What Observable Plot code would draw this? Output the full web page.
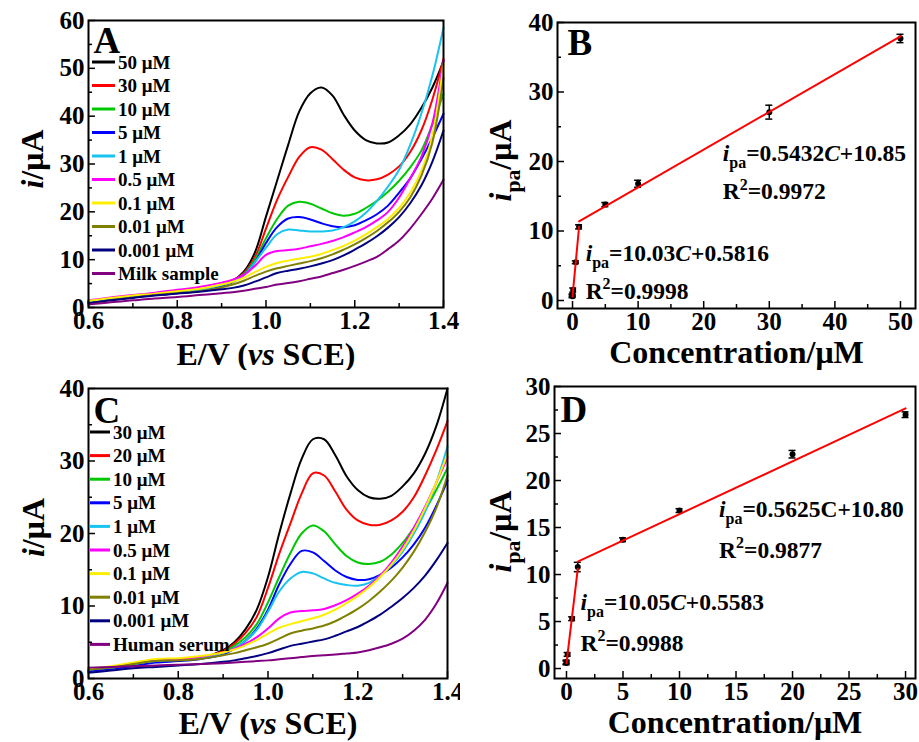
<!DOCTYPE html>
<html><head><meta charset="utf-8">
<script src="https://cdn.jsdelivr.net/npm/d3@7"></script>
<script src="https://cdn.jsdelivr.net/npm/@observablehq/plot@0.6"></script>
<style>
html,body{margin:0;padding:0;background:#fff;}
#wrap{position:relative;width:919px;height:742px;overflow:hidden;background:#fff;}
#wrap > svg{position:absolute;}
</style></head><body><div id="wrap"></div>
<script>
// ---------- data ----------
const potential = [0.6,0.65,0.7,0.75,0.8,0.85,0.9,0.925,0.95,0.975,1.0,1.025,1.05,1.075,1.1,1.125,1.15,1.175,1.2,1.225,1.25,1.275,1.3,1.325,1.35,1.375,1.4];

const labelsA = ["50 μM","30 μM","10 μM","5 μM","1 μM","0.5 μM","0.1 μM","0.01 μM","0.001 μM","Milk sample"];
const labelsC = ["30 μM","20 μM","10 μM","5 μM","1 μM","0.5 μM","0.1 μM","0.01 μM","0.001 μM","Human serum"];
const seriesColors = ["#000000","#ff0000","#00c800","#0000ff","#19c3f0","#ff00ff","#ffee00","#808000","#000080","#800080"];

// Panel A currents (μA)
const a50   = [1.2,1.8,2.3,2.7,3.1,3.6,4.6,5.6,7.5,11.5,19,26.5,34,41,44.8,46,44.3,40.3,37,35,34.3,34.5,36,38.3,41.7,46,51.5];
const a30   = [1.2,1.8,2.3,2.7,3.1,3.6,4.6,5.5,7.2,10.5,16.5,22.5,27.3,31.5,33.5,33,31,28.8,27.2,26.6,26.8,27.8,29.5,32.5,37,43.5,52];
const a10   = [1.2,1.8,2.3,2.7,3.1,3.6,4.6,5.4,7.0,10,14.5,18.5,21.3,22.1,21.7,20.7,19.7,19.2,19.6,20.8,22.3,24.2,26.5,29.3,32.8,38.3,44.7];
const a5    = [1.1,1.7,2.2,2.6,3.0,3.5,4.5,5.3,6.8,9.5,13.5,16.8,18.6,18.9,18.4,17.6,17.0,16.8,17.2,18.2,19.5,21.3,24,27,31,35.5,40.5];
const a1    = [1.3,1.9,2.4,2.8,3.2,3.7,4.7,5.4,6.7,9.5,12.5,15.3,16.3,16.1,15.9,15.9,16.1,16.8,18,19.8,22.3,25.3,28.8,34,40.5,48.5,58.5];
const a05   = [1.5,2.1,2.6,3.1,3.7,4.3,5.2,5.8,6.8,8.7,11,11.8,12,12.3,12.8,13.3,13.9,14.7,15.7,16.8,18.2,20,23,27,31.5,38.5,51.8];
const a01   = [1.4,2.0,2.5,2.9,3.4,3.9,4.8,5.4,6.2,7.4,8.5,9.3,9.8,10.2,10.6,11.2,12,12.9,14,15.3,16.8,18.5,20.8,24,28.5,36,51];
const a001  = [0.9,1.5,2.1,2.6,3.0,3.4,4.2,4.8,5.6,6.6,7.5,8.2,8.7,9.2,9.7,10.3,11.1,12.1,13.2,14.5,16,17.8,20,23,27.5,34.5,48];
const a0001 = [0.9,1.5,2.0,2.5,2.9,3.3,3.8,4.1,4.6,5.4,6.3,7.2,7.7,8.1,8.6,9.2,9.9,10.9,12.1,13.4,14.9,16.7,18.9,21.8,25.5,30.5,37];
const aMilk = [0.6,1.1,1.5,1.9,2.2,2.6,3.0,3.2,3.5,3.9,4.3,4.8,5.1,5.5,6.0,6.5,7.2,7.9,8.7,9.6,10.6,12.2,14,16.5,19.5,22.8,26.7];

// Panel C currents (μA)
const c30    = [1.1,1.4,1.8,2.3,2.5,2.8,3.9,5.0,6.8,9.5,14,20,25.5,30.3,33,33,30.8,27.9,26,25,24.8,25.2,26.5,28.3,31,34.8,40];
const c20    = [1.1,1.4,1.8,2.3,2.5,2.8,3.8,4.8,6.3,8.5,12.5,17.2,21.4,25.5,28.3,28,25.8,23.3,21.8,21.2,21.2,21.8,23,25,28,31.5,35.5];
const c10    = [1.1,1.4,1.8,2.3,2.5,2.8,3.6,4.5,5.7,7.5,10.5,14,17.3,20,21.1,20.3,18.5,16.9,16,15.8,16.1,17.1,18.7,20.8,23.2,26,29];
const c5     = [1.0,1.3,1.7,2.2,2.4,2.7,3.3,4.1,5.2,6.9,9.5,13,15.8,17.6,17.4,16.2,14.9,14,13.6,13.7,14.3,15.3,16.7,18.5,20.8,23.8,27.3];
const c1     = [1.2,1.5,2.0,2.4,2.6,2.9,3.5,4.2,5.2,6.7,9.2,12,13.8,14.7,14.5,13.8,13.2,12.9,12.8,13.2,14.2,15.6,17.5,20,23,27,32];
const c05    = [1.3,1.6,2.1,2.5,2.7,3.0,3.6,4.1,4.8,5.7,6.9,8.3,9.1,9.3,9.4,9.6,10.1,10.8,11.7,12.8,14.2,16,18.2,20.8,23.7,27,30.5];
const c01    = [1.3,1.7,2.2,2.7,2.8,3.1,3.6,4.0,4.6,5.3,6.2,7.0,7.5,7.9,8.3,8.8,9.5,10.4,11.4,12.6,14,15.7,17.8,20.4,23.5,27,31];
const c001   = [1.2,1.5,2.0,2.4,2.5,2.7,3.2,3.5,3.9,4.3,4.8,5.5,6.2,6.6,6.9,7.3,7.9,8.7,9.6,10.7,12,13.5,15.3,17.5,20.2,23.5,28];
const c0001  = [0.8,1.1,1.4,1.6,1.8,2.0,2.3,2.5,2.8,3.1,3.5,4.0,4.5,4.8,5.1,5.4,5.9,6.5,7.1,7.9,8.8,9.9,11.1,12.5,14.2,16.3,18.7];
const cSerum = [1.5,1.6,1.7,1.8,1.9,2.0,2.1,2.2,2.3,2.4,2.5,2.65,2.8,2.95,3.1,3.2,3.3,3.45,3.6,3.9,4.3,4.8,5.5,6.6,8.1,10.3,13.2];

// Panel B calibration (milk)
const concB = [0.001,0.01,0.1,0.5,1,5,10,30,50];
const ipaB  = [0.6,0.75,1.5,5.5,10.6,13.8,16.8,27.1,37.7];
const errB  = [0.2,0.2,0.3,0.2,0.3,0.3,0.5,1.0,0.6];
const fitB  = [{slope:10.03, intercept:0.5816, from:0, to:1},{slope:0.5432, intercept:10.85, from:1, to:50}];
const annB  = [
  {x:22.9, y:21.2, t:"*i*_{pa}=0.5432*C*+10.85"},
  {x:22.9, y:15.7, t:"R^{2}=0.9972"},
  {x:2.0,  y:6.8,  t:"*i*_{pa}=10.03*C*+0.5816"},
  {x:2.0,  y:1.35, t:"R^{2}=0.9998"}
];

// Panel D calibration (human serum)
const concD = [0.001,0.01,0.1,0.5,1,5,10,20,30];
const ipaD  = [0.6,0.7,1.5,5.3,10.8,13.7,16.8,22.8,27.0];
const errD  = [0.2,0.2,0.2,0.2,0.5,0.2,0.2,0.4,0.3];
const fitD  = [{slope:10.05, intercept:0.5583, from:0, to:1},{slope:0.5625, intercept:10.80, from:1, to:30}];
const annD  = [
  {x:13.5, y:16.9, t:"*i*_{pa}=0.5625C+10.80"},
  {x:13.5, y:12.6, t:"R^{2}=0.9877"},
  {x:1.24, y:7.0,  t:"*i*_{pa}=10.05*C*+0.5583"},
  {x:1.24, y:2.7,  t:"R^{2}=0.9988"}
];

// ---------- helpers ----------
const FONT = "'Liberation Serif','Times New Roman',serif";
const svgns = "http://www.w3.org/2000/svg";

function richify(svg) {
  svg.querySelectorAll("text").forEach(el => {
    const s = el.textContent;
    if (!/\*|_\{|\^\{/.test(s)) return;
    const size = parseFloat(getComputedStyle(el).fontSize) || 20;
    el.textContent = "";
    const re = /\*([^*]+)\*|_\{([^}]+)\}|\^\{([^}]+)\}|([^*_^]+)/g;
    let m, shift = 0;
    while ((m = re.exec(s))) {
      const t = document.createElementNS(svgns, "tspan");
      if (m[2] != null || m[3] != null) {
        t.textContent = m[2] != null ? m[2] : m[3];
        t.setAttribute("font-size", (size * 0.68).toFixed(2));
        const off = m[2] != null ? 0.3 * size : -0.4 * size;
        t.setAttribute("dy", (off - shift).toFixed(2));
        shift = off;
      } else {
        if (m[1] != null) { t.textContent = m[1]; t.setAttribute("font-style", "italic"); }
        else t.textContent = m[4];
        if (shift) { t.setAttribute("dy", (-shift).toFixed(2)); shift = 0; }
      }
      el.appendChild(t);
    }
  });
}

function legend(svg, labels, {x1, x2, tx, y0, step}) {
  const g = d3.select(svg).append("g")
    .attr("font-size", 19).attr("font-weight", "bold").attr("font-family", FONT)
    .attr("text-anchor", "start");
  labels.forEach((lab, k) => {
    const y = y0 + k * step;
    g.append("line").attr("x1", x1).attr("x2", x2).attr("y1", y).attr("y2", y)
      .attr("stroke", seriesColors[k]).attr("stroke-width", 3);
    g.append("text").attr("x", tx).attr("y", y).attr("dy", "0.35em")
      .attr("text-anchor", "start").attr("fill", "black").text(lab);
  });
}

function panel(o) {
  const iw = o.width - o.ml - o.mr, ih = o.height - o.mt - o.mb;
  const chart = Plot.plot({
    width: o.width, height: o.height,
    marginLeft: o.ml, marginRight: o.mr, marginTop: o.mt, marginBottom: o.mb,
    x: {domain: o.xDomain, axis: null},
    y: {domain: o.yDomain, axis: null},
    style: {fontFamily: FONT, fontWeight: "bold", background: "white", color: "black", overflow: "visible"},
    marks: [
      ...o.marks,
      Plot.tickX(o.xMajor, {x: d => d, insetTop: ih - 7, stroke: "black", strokeWidth: 1.5}),
      Plot.tickX(o.xMinor, {x: d => d, insetTop: ih - 4, stroke: "black", strokeWidth: 1.5}),
      Plot.tickY(o.yMajor, {y: d => d, insetRight: iw - 7, stroke: "black", strokeWidth: 1.5}),
      Plot.tickY(o.yMinor, {y: d => d, insetRight: iw - 4, stroke: "black", strokeWidth: 1.5}),
      Plot.frame({stroke: "black", strokeWidth: 2}),
      Plot.text(o.xMajor, {x: d => d, frameAnchor: "bottom", textAnchor: "middle", lineAnchor: "top", dy: 4, text: o.xFmt, fontSize: 25, fontWeight: "bold", fill: "black"}),
      Plot.text(o.yMajor, {y: d => d, frameAnchor: "left", textAnchor: "end", lineAnchor: "middle", dx: -4, text: d => String(d), fontSize: 25, fontWeight: "bold", fill: "black"}),
      Plot.text([o.xTitle], {frameAnchor: "bottom", textAnchor: "middle", lineAnchor: "middle", dy: o.xTitleDy, text: d => d, fontSize: 32, fontWeight: "bold", fill: "black"}),
      Plot.text([o.yTitle], {frameAnchor: "left", textAnchor: "middle", lineAnchor: "middle", rotate: -90, dx: o.yTitleDx, dy: o.yTitleDy, text: d => d, fontSize: 32, fontWeight: "bold", fill: "black"}),
      Plot.text([o.letter], {frameAnchor: "top-left", textAnchor: "start", lineAnchor: "top", dx: o.letterDx, dy: o.letterDy, text: d => d, fontSize: 37, fontWeight: "bold", fill: "black"})
    ]
  });
  chart.style.left = o.left + "px";
  chart.style.top = o.top + "px";
  document.getElementById("wrap").appendChild(chart);
  return chart;
}

function curveMarks(values, labels) {
  return values.map((arr, k) => {
    const rows = potential.map((e, j) => ({E: e, i: arr[j], s: labels[k]}));
    return Plot.line(rows, {x: "E", y: "i", stroke: seriesColors[k], strokeWidth: 2, curve: "catmull-rom"});
  });
}

function calibMarks(conc, ipa, err, fits, ann) {
  const pts = conc.map((c, j) => ({c, v: ipa[j], e: err[j]}));
  const fitPts = fits.flatMap((f, k) => [f.from, f.to].map(x => ({seg: k, x, y: f.slope * x + f.intercept})));
  return [
    Plot.ruleX(pts, {x: "c", y1: d => d.v - d.e, y2: d => d.v + d.e, stroke: "black", strokeWidth: 1.5}),
    Plot.ruleY(pts, {y: d => d.v + d.e, x1: "c", x2: "c", insetLeft: -3.5, insetRight: -3.5, stroke: "black", strokeWidth: 1.5}),
    Plot.ruleY(pts, {y: d => d.v - d.e, x1: "c", x2: "c", insetLeft: -3.5, insetRight: -3.5, stroke: "black", strokeWidth: 1.5}),
    Plot.dot(pts, {x: "c", y: "v", r: 3, fill: "black", stroke: "none"}),
    Plot.line(fitPts, {x: "x", y: "y", z: "seg", stroke: "#ff0000", strokeWidth: 2}),
    Plot.text(ann, {x: "x", y: "y", text: "t", textAnchor: "start", lineAnchor: "middle", fontSize: 23.5, fontWeight: "bold", fill: "black"})
  ];
}

const fmt1 = d => d.toFixed(1);
const fmt0 = d => String(d);

// ---------- Panel A ----------
const A = panel({
  left: 0, top: 0, width: 460, height: 370, ml: 88, mr: 17, mt: 20, mb: 63,
  xDomain: [0.6, 1.4], yDomain: [0, 60],
  xMajor: [0.6, 0.8, 1.0, 1.2, 1.4], xMinor: [0.7, 0.9, 1.1, 1.3],
  yMajor: [0, 10, 20, 30, 40, 50, 60], yMinor: [5, 15, 25, 35, 45, 55],
  xFmt: fmt1,
  xTitle: "E/V (*vs* SCE)", xTitleDy: 47,
  yTitle: "*i*/μA", yTitleDx: -56, yTitleDy: -5,
  letter: "A", letterDx: 5, letterDy: 6,
  marks: curveMarks([a50, a30, a10, a5, a1, a05, a01, a001, a0001, aMilk], labelsA)
});
legend(A, labelsA, {x1: 92, x2: 115, tx: 118, y0: 62, step: 23.5});

// ---------- Panel B ----------
const B = panel({
  left: 460, top: 0, width: 459, height: 370, ml: 97, mr: 4, mt: 22, mb: 62,
  xDomain: [-2.29, 52.29], yDomain: [-1.15, 40],
  xMajor: [0, 10, 20, 30, 40, 50], xMinor: [5, 15, 25, 35, 45],
  yMajor: [0, 10, 20, 30, 40], yMinor: [5, 15, 25, 35],
  xFmt: fmt0,
  xTitle: "Concentration/μM", xTitleDy: 44,
  yTitle: "*i*_{pa}/μA", yTitleDx: -57, yTitleDy: -5,
  letter: "B", letterDx: 10, letterDy: 6,
  marks: calibMarks(concB, ipaB, errB, fitB, annB)
});

// ---------- Panel C ----------
const C = panel({
  left: 0, top: 370, width: 460, height: 372, ml: 88, mr: 13, mt: 18, mb: 64,
  xDomain: [0.6, 1.4], yDomain: [0, 40],
  xMajor: [0.6, 0.8, 1.0, 1.2, 1.4], xMinor: [0.7, 0.9, 1.1, 1.3],
  yMajor: [0, 10, 20, 30, 40], yMinor: [5, 15, 25, 35],
  xFmt: fmt1,
  xTitle: "E/V (*vs* SCE)", xTitleDy: 45,
  yTitle: "*i*/μA", yTitleDx: -55, yTitleDy: -6,
  letter: "C", letterDx: 5, letterDy: 8,
  marks: curveMarks([c30, c20, c10, c5, c1, c05, c01, c001, c0001, cSerum], labelsC)
});
legend(C, labelsC, {x1: 90, x2: 110, tx: 113, y0: 62, step: 23.6});

// ---------- Panel D ----------
const D = panel({
  left: 460, top: 370, width: 459, height: 372, ml: 94, mr: 4, mt: 16, mb: 64,
  xDomain: [-1.06, 30.88], yDomain: [-1.06, 30],
  xMajor: [0, 5, 10, 15, 20, 25, 30], xMinor: [2.5, 7.5, 12.5, 17.5, 22.5, 27.5],
  yMajor: [0, 5, 10, 15, 20, 25, 30], yMinor: [2.5, 7.5, 12.5, 17.5, 22.5, 27.5],
  xFmt: fmt0,
  xTitle: "Concentration/μM", xTitleDy: 44,
  yTitle: "*i*_{pa}/μA", yTitleDx: -54, yTitleDy: -1,
  letter: "D", letterDx: 6, letterDy: 9,
  marks: calibMarks(concD, ipaD, errD, fitD, annD)
});

[A, B, C, D].forEach(richify);
</script>
</body></html>
